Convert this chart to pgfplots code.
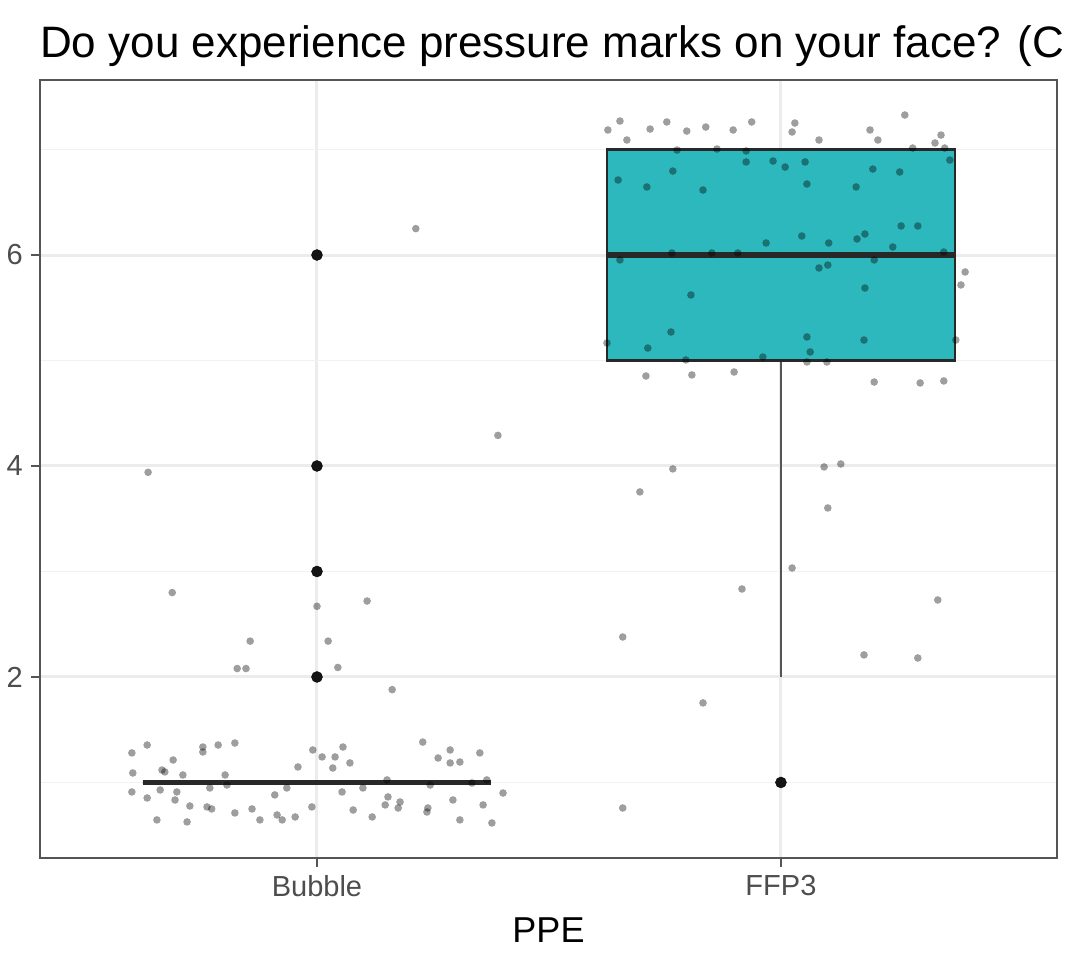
\documentclass[border=0pt]{standalone}
\usepackage{fontspec}
\setmainfont{Liberation Sans}
\usepackage{pgfplots}
\pgfplotsset{compat=1.18}
\usepgfplotslibrary{statistics}

\definecolor{boxteal}{RGB}{44,184,189}
\definecolor{boxsalmon}{RGB}{248,118,109}
\definecolor{gridgrey}{RGB}{236,236,236}
\definecolor{framegrey}{RGB}{85,85,85}
\definecolor{boxline}{RGB}{40,40,40}
\definecolor{ticktext}{RGB}{77,77,77}

% jittered responses, Bubble hood
\pgfplotstableread{
x y
0.636 3.94
0.688 2.80
1.000 2.67
1.108 2.72
0.856 2.34
1.024 2.34
0.828 2.08
0.847 2.08
1.045 2.09
1.162 1.88
1.213 6.25
1.390 4.29
0.634 1.355
0.601 1.280
0.603 1.090
0.601 0.910
0.634 0.853
0.666 1.118
0.672 1.100
0.690 1.213
0.711 1.071
0.662 0.929
0.698 0.910
0.694 0.834
0.655 0.645
0.720 0.626
0.726 0.777
0.754 1.336
0.754 1.289
0.787 1.355
0.823 1.374
0.769 0.948
0.802 1.071
0.806 0.976
0.763 0.768
0.773 0.749
0.823 0.711
0.860 0.749
0.877 0.645
0.909 0.882
0.914 0.692
0.925 0.645
0.953 0.673
0.935 0.948
0.959 1.147
0.989 0.768
0.991 1.308
1.011 1.242
1.039 1.242
1.056 1.336
1.034 1.137
1.071 1.185
1.054 0.910
1.078 0.739
1.099 0.948
1.119 0.673
1.151 1.024
1.147 0.787
1.153 0.863
1.179 0.815
1.175 0.758
1.228 1.383
1.261 1.232
1.287 1.308
1.287 1.185
1.308 1.194
1.351 1.280
1.244 0.976
1.239 0.758
1.237 0.720
1.293 0.834
1.308 0.645
1.334 0.995
1.358 0.787
1.377 0.616
1.366 1.024
1.401 0.900
}\bubblejitter

% jittered responses, FFP3 mask
\pgfplotstableread{
x y
1.627 7.185
1.653 7.270
1.668 7.090
1.718 7.194
1.754 7.261
1.797 7.175
1.838 7.213
1.897 7.185
1.937 7.261
2.030 7.251
2.024 7.166
2.082 7.090
2.192 7.185
2.209 7.090
2.267 7.327
2.345 7.137
2.332 7.062
1.776 6.995
1.862 7.005
1.925 6.986
2.284 7.014
2.353 7.014
1.925 6.882
1.983 6.891
2.009 6.834
2.052 6.882
1.767 6.796
2.198 6.815
2.256 6.787
2.364 6.900
1.649 6.711
1.711 6.645
1.832 6.616
2.056 6.673
2.162 6.645
2.259 6.275
2.295 6.275
2.045 6.180
2.164 6.152
2.181 6.199
1.968 6.114
2.103 6.114
2.241 6.076
1.653 5.953
1.765 6.019
1.851 6.019
1.907 6.019
2.351 6.028
2.201 5.953
2.082 5.877
2.101 5.905
2.397 5.839
2.388 5.716
1.806 5.621
2.181 5.687
1.763 5.270
2.056 5.223
2.179 5.194
1.713 5.118
1.625 5.166
2.377 5.194
2.063 5.081
1.961 5.033
1.795 5.005
2.056 4.986
2.099 4.986
1.709 4.853
1.808 4.863
1.899 4.891
2.201 4.796
2.300 4.787
2.351 4.806
1.767 3.972
2.093 3.991
2.129 4.019
1.696 3.754
2.101 3.602
1.916 2.834
2.024 3.033
2.338 2.730
1.659 2.379
2.179 2.209
2.295 2.180
1.832 1.754
1.659 0.758
}\ffpjitter

\begin{document}
\begin{tikzpicture}
\clip (-40pt,-95pt) rectangle (1029pt,858pt);
\begin{axis}[
  at={(0pt,0pt)}, anchor=south west,
  scale only axis, width=1017pt, height=778pt,
  xmin=0.403, xmax=2.595, ymin=0.284, ymax=7.659,
  xtick={1,2}, xticklabels={Bubble,FFP3},
  ytick={2,4,6}, minor ytick={1,3,5,7},
  xmajorgrids, ymajorgrids, yminorgrids,
  major grid style={gridgrey, line width=3pt},
  minor grid style={gridgrey!75, line width=1.6pt},
  axis line style={framegrey, line width=2.5pt},
  tick style={framegrey, line width=2.5pt},
  tick align=outside, tick pos=left,
  major tick length=9pt, minor tick length=0pt,
  /pgf/number format/assume math mode=true,
  ticklabel style={font=\fontsize{29}{34}\selectfont, text=ticktext},
  xticklabel style={anchor=north, inner sep=0pt, yshift=-8pt},
  yticklabel style={anchor=east, inner sep=0pt, xshift=-8pt},
  xlabel={PPE},
  x label style={font=\fontsize{36}{42}\selectfont, at={(axis description cs:0.5,0)}, anchor=base, yshift=-85pt},
  boxplot/draw direction=y,
  boxplot/every median/.style={line width=5.5pt},
  boxplot/every whisker/.style={line width=2.5pt, draw=framegrey},
]
% boxes
\addplot[boxplot prepared={draw position=1, median=1, lower quartile=1,
  upper quartile=1, lower whisker=1, upper whisker=1, box extend=0.75,
  whisker extend=0}, draw=boxline, line width=2.5pt, fill=boxsalmon] coordinates {};
\addplot[boxplot prepared={draw position=2, median=6, lower quartile=5,
  upper quartile=7, lower whisker=2, upper whisker=7, box extend=0.75,
  whisker extend=0}, draw=boxline, line width=2.5pt, fill=boxteal] coordinates {};
% outliers
\addplot[only marks, mark=*, mark size=5.5pt, mark options={draw=none, fill=black!92}]
  coordinates {(1,2) (1,3) (1,4) (1,6) (2,1)};
% jittered answers
\addplot[only marks, draw=none, mark=*, mark size=3.8pt, mark options={draw=none, draw opacity=0, fill=black, fill opacity=0.38}]
  table[x=x, y=y] {\bubblejitter};
\addplot[only marks, draw=none, mark=*, mark size=3.8pt, mark options={draw=none, draw opacity=0, fill=black, fill opacity=0.38}]
  table[x=x, y=y] {\ffpjitter};
\end{axis}
\node[anchor=base west, inner sep=0pt, font=\fontsize{44}{52}\selectfont] at (0pt,800pt)
  {Do you experience pressure marks on your face? (C};
\end{tikzpicture}
\end{document}
